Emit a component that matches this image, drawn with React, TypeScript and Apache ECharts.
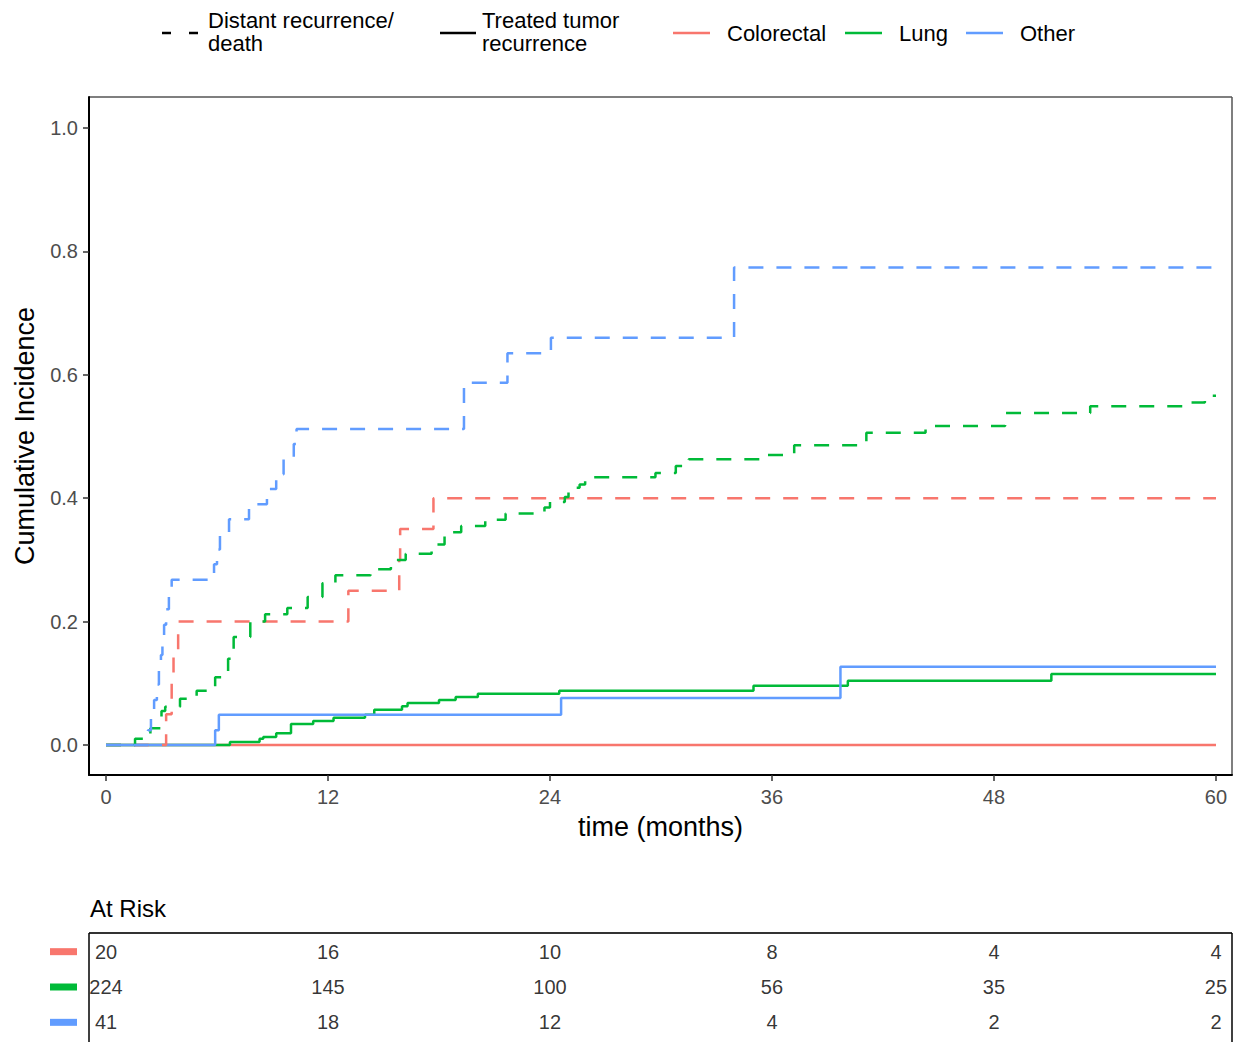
import React, { useEffect, useRef } from 'react';
import * as echarts from 'echarts';

// ---------- data ----------
const groups = ['Colorectal', 'Lung', 'Other'];
const groupColors = ['#F8766D', '#00BA38', '#619CFF'];
const xTicks = [0, 12, 24, 36, 48, 60];
const yTicks = [0, 0.2, 0.4, 0.6, 0.8, 1.0];

// Distant recurrence / death (dashed)
const colorectalDistantT = [0, 3.25, 3.55, 3.65, 3.9, 13.1, 15.85, 15.9, 17.7, 60];
const colorectalDistantV = [0, 0.05, 0.1, 0.15, 0.2, 0.25, 0.3, 0.35, 0.4, 0.4];

const lungDistantT = [0, 1.57, 2.4, 3.0, 3.2, 4.0, 4.9, 5.9, 6.6, 6.9, 7.8, 8.6, 9.8, 10.9, 11.7, 12.4, 14.3, 15.4, 16.2, 17.6, 18.3, 19.2, 20.5, 21.6, 23.7, 24.0, 24.8, 25.0, 25.6, 25.9, 29.7, 30.8, 31.5, 35.5, 37.2, 41.1, 44.3, 48.6, 53.2, 58.5, 59.4, 60];
const lungDistantV = [0, 0.01, 0.027, 0.055, 0.062, 0.075, 0.088, 0.11, 0.14, 0.175, 0.2, 0.212, 0.222, 0.24, 0.262, 0.275, 0.285, 0.3, 0.31, 0.325, 0.345, 0.355, 0.365, 0.375, 0.385, 0.394, 0.402, 0.417, 0.422, 0.434, 0.441, 0.452, 0.463, 0.47, 0.486, 0.506, 0.517, 0.538, 0.549, 0.555, 0.566, 0.566];

const otherDistantT = [0, 2.27, 2.43, 2.6, 2.75, 2.86, 2.97, 3.05, 3.14, 3.25, 3.4, 3.55, 5.84, 6.0, 6.16, 6.65, 7.73, 8.7, 9.2, 9.6, 10.15, 10.3, 19.35, 21.7, 24.05, 33.95, 60];
const otherDistantV = [0, 0.024, 0.049, 0.073, 0.098, 0.122, 0.146, 0.171, 0.195, 0.22, 0.244, 0.268, 0.293, 0.317, 0.342, 0.366, 0.39, 0.415, 0.439, 0.463, 0.488, 0.512, 0.587, 0.635, 0.66, 0.774, 0.774];

// Treated tumor recurrence (solid)
const colorectalTreatedT = [0, 60];
const colorectalTreatedV = [0, 0];

const lungTreatedT = [0, 6.7, 8.3, 8.5, 9.2, 10.0, 11.2, 12.3, 14.0, 14.5, 16.0, 16.3, 18.0, 18.9, 20.1, 24.5, 35.0, 40.1, 51.1, 60];
const lungTreatedV = [0, 0.005, 0.01, 0.013, 0.019, 0.034, 0.039, 0.044, 0.049, 0.057, 0.063, 0.068, 0.073, 0.078, 0.083, 0.088, 0.096, 0.104, 0.115, 0.115];

const otherTreatedT = [0, 5.9, 6.1, 24.6, 39.7, 60];
const otherTreatedV = [0, 0.024, 0.049, 0.076, 0.127, 0.127];

// At risk table
const atRiskColorectal = [20, 16, 10, 8, 4, 4];
const atRiskLung = [224, 145, 100, 56, 35, 25];
const atRiskOther = [41, 18, 12, 4, 2, 2];

// axis ranges (panel expansion beyond data range)
const X_MIN = -0.919;
const X_MAX = 60.865;
const Y_MIN = -0.0486;
const Y_MAX = 1.0502;

// ---------- layout ----------
const W = 1239;
const H = 1042;
const FONT = '"Liberation Sans", Arial, Helvetica, sans-serif';
const FRAME = { left: 89, right: 1232, top: 97, bottom: 775 };
const TABLE = { top: 934, height: 106, frameTop: 933 };
const DASH = [15, 13];

const pairs = (t: number[], v: number[]) => t.map((x, i) => [x, v[i]]);

export default function App() {
  const ref = useRef<HTMLDivElement>(null);

  useEffect(() => {
    if (!ref.current) return;
    const chart = echarts.init(ref.current, null, { renderer: 'svg' });

    const lineSeries = (name: string, color: string, t: number[], v: number[], dashed: boolean) => ({
      type: 'line',
      name,
      step: 'end',
      xAxisIndex: 0,
      yAxisIndex: 0,
      data: pairs(t, v),
      showSymbol: false,
      symbol: 'none',
      silent: true,
      clip: true,
      lineStyle: { color, width: 2.5, type: dashed ? DASH : 'solid', cap: 'butt' },
    });

    const atRisk = [atRiskColorectal, atRiskLung, atRiskOther];
    const tableSeries = groups.map((g, gi) => ({
      type: 'scatter',
      xAxisIndex: 1,
      yAxisIndex: 1,
      symbolSize: 1,
      silent: true,
      itemStyle: { color: 'rgba(0,0,0,0)' },
      data: xTicks.map((m, i) => [m, g, atRisk[gi][i]]),
      label: {
        show: true,
        position: 'inside',
        formatter: (p: any) => String(p.value[2]),
        color: '#000',
        fontSize: 20,
        fontFamily: FONT,
      },
    }));

    const rowH = TABLE.height / groups.length;
    const txt = (text: string, x: number, y: number, size: number, align = 'left') => ({
      type: 'text',
      silent: true,
      style: {
        text,
        x,
        y,
        fill: '#000',
        fontSize: size,
        fontFamily: FONT,
        align,
        verticalAlign: 'middle',
        textAlign: align,
        textVerticalAlign: 'middle',
      },
    });
    const ln = (x1: number, y1: number, x2: number, y2: number, stroke: string, lineWidth: number, lineDash?: number[]) => ({
      type: 'line',
      silent: true,
      shape: { x1, y1, x2, y2 },
      style: { stroke, lineWidth, lineDash },
    });

    const graphic: any[] = [
      // plot frame (top/right)
      ln(FRAME.left, FRAME.top, FRAME.right, FRAME.top, '#555', 1.5),
      ln(FRAME.right, FRAME.top, FRAME.right, FRAME.bottom, '#555', 1.5),
      // legend
      ln(162, 33, 198, 33, '#000', 2.5, [9, 18]),
      txt('Distant recurrence/', 208, 20, 22),
      txt('death', 208, 43, 22),
      ln(440, 33, 476, 33, '#000', 2.5),
      txt('Treated tumor', 482, 20, 22),
      txt('recurrence', 482, 43, 22),
      ln(673, 33, 710, 33, groupColors[0], 2.5),
      txt(groups[0], 727, 33, 22),
      ln(845, 33, 882, 33, groupColors[1], 2.5),
      txt(groups[1], 899, 33, 22),
      ln(966, 33, 1003, 33, groupColors[2], 2.5),
      txt(groups[2], 1020, 33, 22),
      // at-risk table
      txt('At Risk', 90, 908, 24),
      ln(FRAME.left, TABLE.frameTop, FRAME.right, TABLE.frameTop, '#333', 2),
      ln(FRAME.left, TABLE.frameTop, FRAME.left, H, '#000', 1.5),
      ln(FRAME.right, TABLE.frameTop, FRAME.right, H, '#000', 1.5),
      ...groups.map((g, i) => ({
        type: 'rect',
        silent: true,
        shape: { x: 50, y: TABLE.top + rowH * (i + 0.5) - 3.5, width: 27, height: 7 },
        style: { fill: groupColors[i] },
      })),
    ];

    const option: any = {
      animation: false,
      backgroundColor: '#fff',
      textStyle: { fontFamily: FONT },
      grid: [
        { left: FRAME.left, right: W - FRAME.right, top: FRAME.top, bottom: H - FRAME.bottom },
        { left: FRAME.left, right: W - FRAME.right, top: TABLE.top, height: TABLE.height },
      ],
      xAxis: [
        {
          gridIndex: 0,
          type: 'value',
          min: X_MIN,
          max: X_MAX,
          axisLine: { show: true, onZero: false, lineStyle: { color: '#000', width: 2 } },
          axisTick: { show: true, length: 6, customValues: xTicks, lineStyle: { color: '#333', width: 1.5 } },
          axisLabel: { color: '#4D4D4D', fontSize: 20, margin: 12, fontFamily: FONT, customValues: xTicks, showMinLabel: true, showMaxLabel: true },
          splitLine: { show: false },
          name: 'time (months)',
          nameLocation: 'middle',
          nameGap: 38,
          nameTextStyle: { fontSize: 27, color: '#000', fontFamily: FONT },
        },
        { gridIndex: 1, type: 'value', min: X_MIN, max: X_MAX, show: false },
      ],
      yAxis: [
        {
          gridIndex: 0,
          type: 'value',
          min: Y_MIN,
          max: Y_MAX,
          axisLine: { show: true, onZero: false, lineStyle: { color: '#000', width: 2 } },
          axisTick: { show: true, length: 6, customValues: yTicks, lineStyle: { color: '#333', width: 1.5 } },
          axisLabel: {
            color: '#4D4D4D',
            fontSize: 20,
            margin: 11,
            fontFamily: FONT,
            customValues: yTicks,
            formatter: (v: number) => v.toFixed(1),
          },
          splitLine: { show: false },
          name: 'Cumulative Incidence',
          nameLocation: 'middle',
          nameRotate: 90,
          nameGap: 51,
          nameTextStyle: { fontSize: 27, color: '#000', fontFamily: FONT },
        },
        { gridIndex: 1, type: 'category', data: groups, inverse: true, show: false },
      ],
      series: [
        lineSeries('Colorectal treated', groupColors[0], colorectalTreatedT, colorectalTreatedV, false),
        lineSeries('Lung treated', groupColors[1], lungTreatedT, lungTreatedV, false),
        lineSeries('Other treated', groupColors[2], otherTreatedT, otherTreatedV, false),
        lineSeries('Colorectal distant', groupColors[0], colorectalDistantT, colorectalDistantV, true),
        lineSeries('Lung distant', groupColors[1], lungDistantT, lungDistantV, true),
        lineSeries('Other distant', groupColors[2], otherDistantT, otherDistantV, true),
        ...tableSeries,
      ],
      graphic,
    };

    chart.setOption(option);
    return () => chart.dispose();
  }, []);

  return (
    <div
      ref={ref}
      style={{ position: 'fixed', left: 0, top: 0, width: W, height: H, background: '#fff' }}
    />
  );
}
